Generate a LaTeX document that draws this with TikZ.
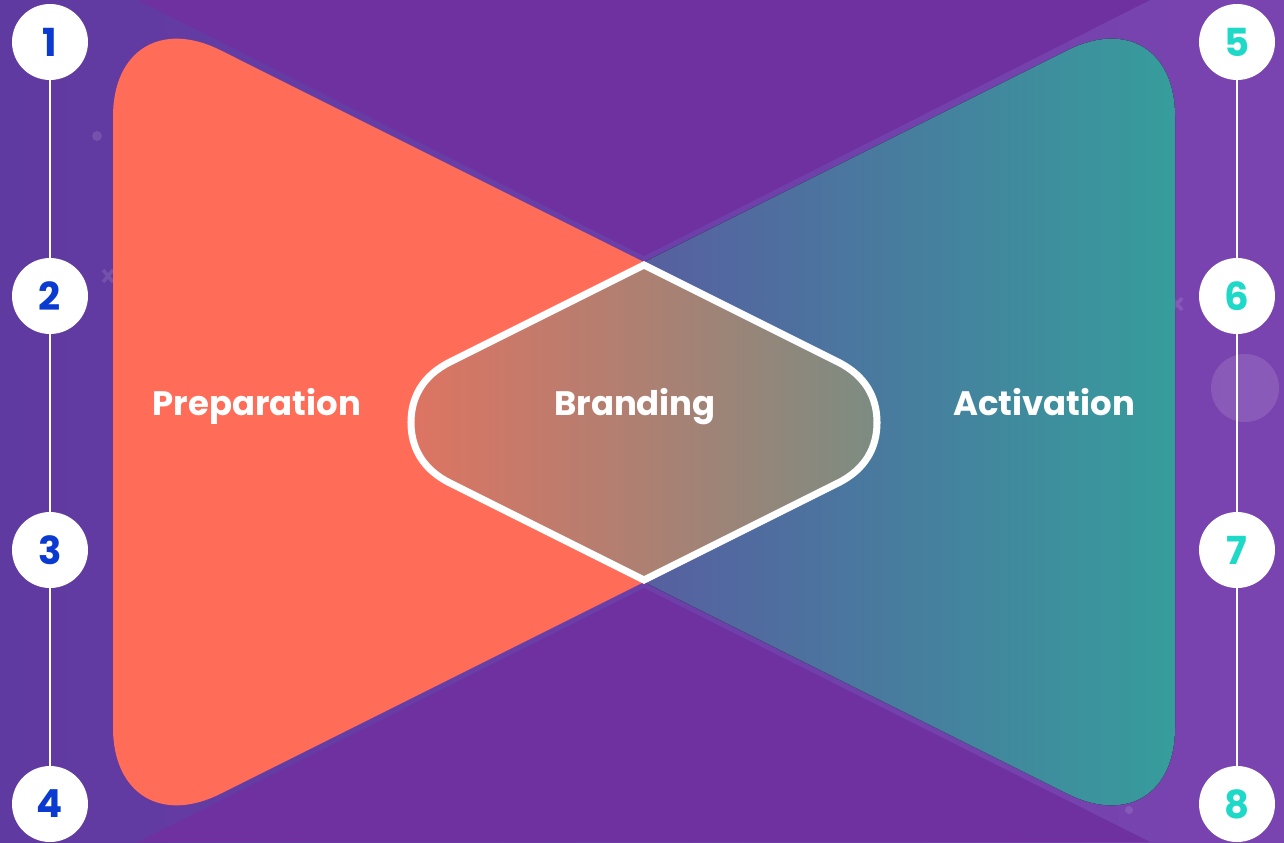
\documentclass[tikz,border=0pt]{standalone}
\usepackage{fontspec}
\usepackage{tikz}
\usepackage{xcolor}
\newfontfamily\poppins{Poppins}
\definecolor{bgleft}{RGB}{95,58,160}
\definecolor{bgright}{RGB}{122,68,176}
\definecolor{bgdark}{RGB}{111,49,160}
\definecolor{prepcolor}{RGB}{255,108,88}
\definecolor{actleft}{RGB}{107,57,163}
\definecolor{actright}{RGB}{54,157,156}
\definecolor{brandleft}{RGB}{222,116,98}
\definecolor{brandright}{RGB}{124,140,130}
\definecolor{numleft}{RGB}{10,58,208}
\definecolor{numright}{RGB}{30,216,200}
\tikzstyle{stepnum} = [
    circle,
    fill=white,
    inner sep=0pt,
    minimum size=1.52cm,
    font=\poppins\bfseries\fontsize{22}{22}\selectfont
    ]
\tikzstyle{phase} = [
    text=white,
    anchor=base,
    font=\poppins\bfseries\fontsize{19.3}{23}\selectfont
    ]
\tikzstyle{timeline} = [white, line width=1.1pt]
\tikzstyle{brandline} = [white, line width=4pt, line join=miter]
\tikzstyle{faint} = [white, opacity=0.12]

\begin{document}
\begin{tikzpicture}[x=0.02cm, y=-0.02cm]
\useasboundingbox (0,0) rectangle (1284,842);
% background and the dark wedges
\fill[left color=bgleft, right color=bgright] (0,0) rectangle (1284,842);
\fill[bgdark] (138,0) -- (1150,0) -- (644,256) -- cycle;
\fill[bgdark] (138,842) -- (1150,842) -- (644,588) -- cycle;
% faint bits
\fill[faint] (1245,388) circle (34);
\fill[faint] (97,136) circle (5);
\fill[faint] (1129,810) circle (4);
\draw[faint, line width=2pt] (103,270) -- (113,282) (103,282) -- (113,270);
\draw[faint, line width=2pt] (1172,298) -- (1182,310) (1172,310) -- (1182,298);
% left wing
\begin{scope}
\clip (0,0) rectangle (644,842);
\fill[prepcolor, rounded corners=2.4cm] (113,-3.5) -- (964,422) -- (113,847.5) -- cycle;
\end{scope}
% right wing
\begin{scope}
\clip (644,0) rectangle (1284,842);
\fill[left color=actleft, right color=actright, rounded corners=2.4cm]
    (1175,-3.5) -- (324,422) -- (1175,847.5) -- cycle;
\end{scope}
% middle
\draw[brandline, left color=brandleft, right color=brandright]
    (644,265) -- (838,362) .. controls (866,376) and (877,398) .. (877,422.5)
    .. controls (877,447) and (866,469) .. (838,483) -- (644,580)
    -- (450,483) .. controls (422,469) and (411,447) .. (411,422.5)
    .. controls (411,398) and (422,376) .. (450,362) -- cycle;

\node[phase] (prep) at (257,415) {Preparation};
\node[phase] (brand) at (635,415) {Branding};
\node[phase] (act) at (1044,415) {Activation};

% numbered steps
\node[stepnum, text=numleft] (n1) at (50,42) {1};
\node[stepnum, text=numleft] (n2) at (50,296) {2};
\node[stepnum, text=numleft] (n3) at (50,550) {3};
\node[stepnum, text=numleft] (n4) at (50,804) {4};
\node[stepnum, text=numright] (n5) at (1237,42) {5};
\node[stepnum, text=numright] (n6) at (1237,296) {6};
\node[stepnum, text=numright] (n7) at (1237,550) {7};
\node[stepnum, text=numright] (n8) at (1237,804) {8};
\draw[timeline] (n1) -- (n2) -- (n3) -- (n4);
\draw[timeline] (n5) -- (n6) -- (n7) -- (n8);
\end{tikzpicture}
\end{document}
